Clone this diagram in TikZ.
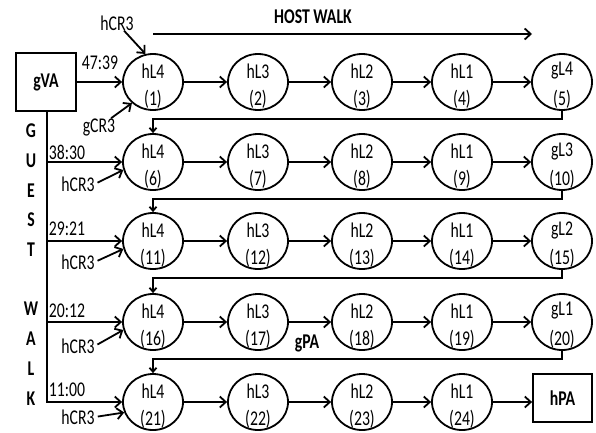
\documentclass[tikz,border=0pt]{standalone}
\usepackage{fontspec}
\setmainfont{Carlito}[FakeStretch=0.75]
\usetikzlibrary{shapes.geometric,arrows.meta}
\begin{document}
\begin{tikzpicture}[x=1pt,y=-1pt,
  lvl/.style={draw, ellipse, line width=1.8pt, minimum width=60pt, minimum height=56pt, inner sep=0pt},
  bx/.style={draw, rectangle, line width=1.8pt, inner sep=0pt, font=\fontsize{21}{25}\selectfont\bfseries},
  txt/.style={inner sep=0pt, font=\fontsize{21}{25}\selectfont},
  btxt/.style={inner sep=0pt, font=\fontsize{21}{25}\selectfont\bfseries},
  wire/.style={line width=1.8pt},
  arr/.style={line width=1.8pt, -{Straight Barb[length=6pt,width=11pt]}},
  sarr/.style={line width=1.8pt, -{Straight Barb[length=4pt,width=7pt]}}]
\useasboundingbox (0,0) rectangle (596,432);
\newcommand\lvn[5]{%
  \node[lvl] (#1) at (#2,#3) {};
  \node[txt] (#1t) at (#2,#3-11) {#4};
  \node[txt] (#1b) at (#2,#3+17) {#5};}
% row 1
\lvn{n1}{153}{82}{hL4}{(1)}
\lvn{n2}{258}{82}{hL3}{(2)}
\lvn{n3}{362}{82}{hL2}{(3)}
\lvn{n4}{462}{82}{hL1}{(4)}
\lvn{n5}{562}{82}{gL4}{(5)}
% row 2
\lvn{n6}{153}{162}{hL4}{(6)}
\lvn{n7}{258}{162}{hL3}{(7)}
\lvn{n8}{362}{162}{hL2}{(8)}
\lvn{n9}{462}{162}{hL1}{(9)}
\lvn{n10}{562}{162}{gL3}{(10)}
% row 3
\lvn{n11}{153}{241}{hL4}{(11)}
\lvn{n12}{258}{241}{hL3}{(12)}
\lvn{n13}{362}{241}{hL2}{(13)}
\lvn{n14}{462}{241}{hL1}{(14)}
\lvn{n15}{562}{241}{gL2}{(15)}
% row 4
\lvn{n16}{153}{322}{hL4}{(16)}
\lvn{n17}{258}{322}{hL3}{(17)}
\lvn{n18}{362}{322}{hL2}{(18)}
\lvn{n19}{462}{322}{hL1}{(19)}
\lvn{n20}{562}{322}{gL1}{(20)}
% row 5
\lvn{n21}{153}{402}{hL4}{(21)}
\lvn{n22}{258}{402}{hL3}{(22)}
\lvn{n23}{362}{402}{hL2}{(23)}
\lvn{n24}{462}{402}{hL1}{(24)}
\node[bx, minimum width=59pt, minimum height=48pt] (hpa) at (562.5,398) {hPA};
\node[bx, minimum width=60pt, minimum height=58pt] (gva) at (46,82) {gVA};
% row arrows
\foreach \a/\b in {n1/n2,n2/n3,n3/n4,n4/n5,n6/n7,n7/n8,n8/n9,n9/n10,
  n11/n12,n12/n13,n13/n14,n14/n15,n16/n17,n17/n18,n18/n19,n19/n20,
  n21/n22,n22/n23,n23/n24}
  \draw[arr] (\a) -- (\b);
\draw[arr] (n24) -- (n24 -| hpa.west);
% feedback
\draw[sarr] (n5.south) -- ++(0,8) -| (n6.north);
\draw[sarr] (n10.south) -- ++(0,8) -| (n11.north);
\draw[sarr] (n15.south) -- ++(0,8) -| (n16.north);
\draw[sarr] (n20.south) -- ++(0,8) -| (n21.north);
% host walk
\coordinate (hw1) at (153,34);
\coordinate (hw2) at (532,34);
\draw[arr] (hw1) -- (hw2);
\node[btxt] (hwl) at (313,17) {HOST WALK};
% guest walk
\draw[arr] (gva) -- (n1);
\coordinate (gw) at (47,111);
\draw[arr] (gw) |- (n21.west);
\draw[arr] (gw |- n6) -- (n6.west);
\draw[arr] (gw |- n11) -- (n11.west);
\draw[arr] (gw |- n16) -- (n16.west);
\node[txt] (l1) at (100,63) {47:39};
\node[txt] (l2) at (67,152) {38:30};
\node[txt] (l3) at (67,229) {29:21};
\node[txt] (l4) at (67,311) {20:12};
\node[txt] (l5) at (67,390) {11:00};
\node[btxt, align=center, font=\fontsize{21}{29.7}\selectfont\bfseries] (gwl) at (31,264.5)
  {G\\U\\E\\S\\T\\[29.7pt]W\\A\\L\\K};
% CR3 labels
\node[txt] (hcr0) at (117,23) {hCR3};
\draw[arr] (hcr0) -- (n1.105);
\node[txt] (gcr) at (99,127) {gCR3};
\draw[arr] (gcr) -- (n1.225);
\node[txt] (hcr2) at (78,184) {hCR3};
\draw[arr, shorten <=3pt] (hcr2.east) -- (n6.195);
\node[txt] (hcr3) at (78,262) {hCR3};
\draw[arr, shorten <=3pt] (hcr3.east) -- (n11.195);
\node[txt] (hcr4) at (78,346) {hCR3};
\draw[arr, shorten <=3pt] (hcr4.east) -- (n16.195);
\node[txt] (hcr5) at (78,417) {hCR3};
\draw[arr, shorten <=3pt] (hcr5.east) -- (n21.200);
\node[btxt] (gpa) at (307,343) {gPA};
\end{tikzpicture}
\end{document}
